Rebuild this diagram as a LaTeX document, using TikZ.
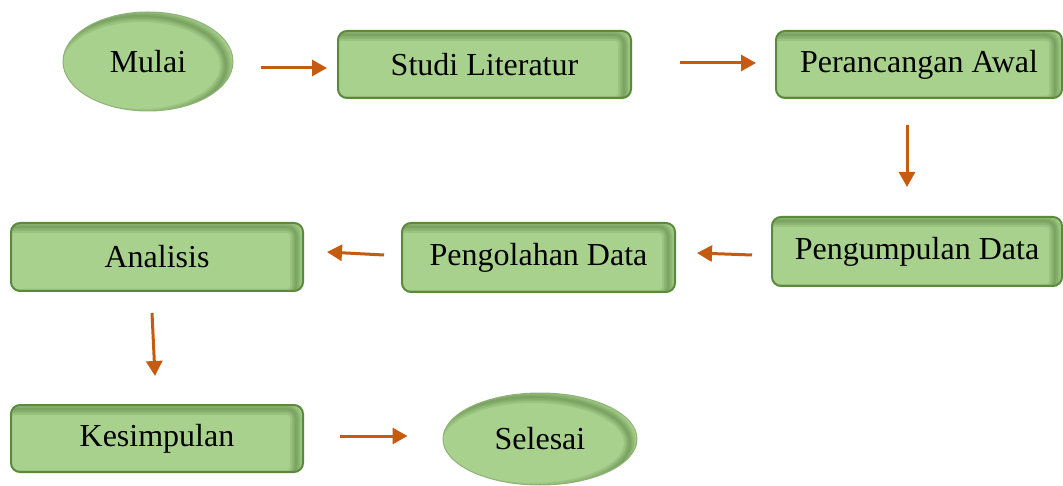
\documentclass[tikz,border=0pt]{standalone}
\usepackage{fontspec}
\setmainfont{Liberation Serif}
\usetikzlibrary{arrows.meta, shapes, calc}

\definecolor{boxfill}{HTML}{A9D18E}
\definecolor{boxline}{HTML}{5B8A3C}
\definecolor{shadowc}{HTML}{3A6323}
\definecolor{flowc}{HTML}{C55A11}

\begin{document}
\begin{tikzpicture}[x=1pt, y=-1pt, >={Triangle[length=15pt, width=16pt]},
    font=\fontsize{32}{38}\selectfont,
    box/.style={rectangle, rounded corners=9pt, draw=boxline, line width=2pt, fill=boxfill, inner sep=0pt,
        path picture={\foreach \w in {12,8,5,2}
            \draw[shadowc, line width=\w pt, opacity=.12, rounded corners=9pt]
                ([xshift=-7pt, yshift=-4pt]path picture bounding box.south west)
                rectangle ([xshift=-7pt, yshift=-4pt]path picture bounding box.north east);}},
    oval/.style={ellipse, draw=boxfill!85!black, line width=1pt, fill=boxfill, inner sep=0pt,
        path picture={\foreach \w in {12,8,5,2}
            \draw[shadowc, line width=\w pt, opacity=.12]
                let \p1=(path picture bounding box.north east), \p2=(path picture bounding box.center) in
                ([xshift=-7pt, yshift=-4pt]\p2) ellipse [x radius=\x1-\x2, y radius=\y1-\y2];}},
    flow/.style={->, draw=flowc, line width=3pt}]

    \useasboundingbox (0,0) rectangle (1063,486);

    % nodes
    \node[oval, minimum width=170pt, minimum height=99pt] (mulai) at (148,61.5) {Mulai};
    \node[box, minimum width=293pt, minimum height=67pt] (studi) at (484.5,64.5) {Studi Literatur};
    \node[box, minimum width=286pt, minimum height=67pt] (rancang) at (919,64.5) {Perancangan Awal};

    \node[box, minimum width=290pt, minimum height=69pt] (kumpul) at (917,251.5) {Pengumpulan Data};
    \node[box, minimum width=273pt, minimum height=69pt] (olah) at (538.5,257.5) {Pengolahan Data};
    \node[box, minimum width=292pt, minimum height=68pt] (analisis) at (157,257) {Analisis};

    \node[box, minimum width=292pt, minimum height=67pt] (simpul) at (157,438.5) {Kesimpulan};
    \node[oval, minimum width=194pt, minimum height=92pt] (selesai) at (540,439) {Selesai};

    % arrows
    \draw[flow] ([shift={(27,6.5)}]mulai.east) -- ([shift={(-10,3.5)}]studi.west);
    \draw[flow] ([shift={(48,-1.5)}]studi.east) -- ([shift={(-19,-1.5)}]rancang.west);
    \draw[flow] ([shift={(-12,26)}]rancang.south) -- ([shift={(-10,-29)}]kumpul.north);
    \draw[flow] ([shift={(-19,3.5)}]kumpul.west) -- ([shift={(21,-4.5)}]olah.east);
    \draw[flow] ([shift={(-17,-2.5)}]olah.west) -- ([shift={(23,-5)}]analisis.east);
    \draw[flow] ([shift={(-5,21)}]analisis.south) -- ([shift={(-2,-28)}]simpul.north);
    \draw[flow] ([shift={(36,-2.5)}]simpul.east) -- ([shift={(-35,-3)}]selesai.west);

\end{tikzpicture}
\end{document}
